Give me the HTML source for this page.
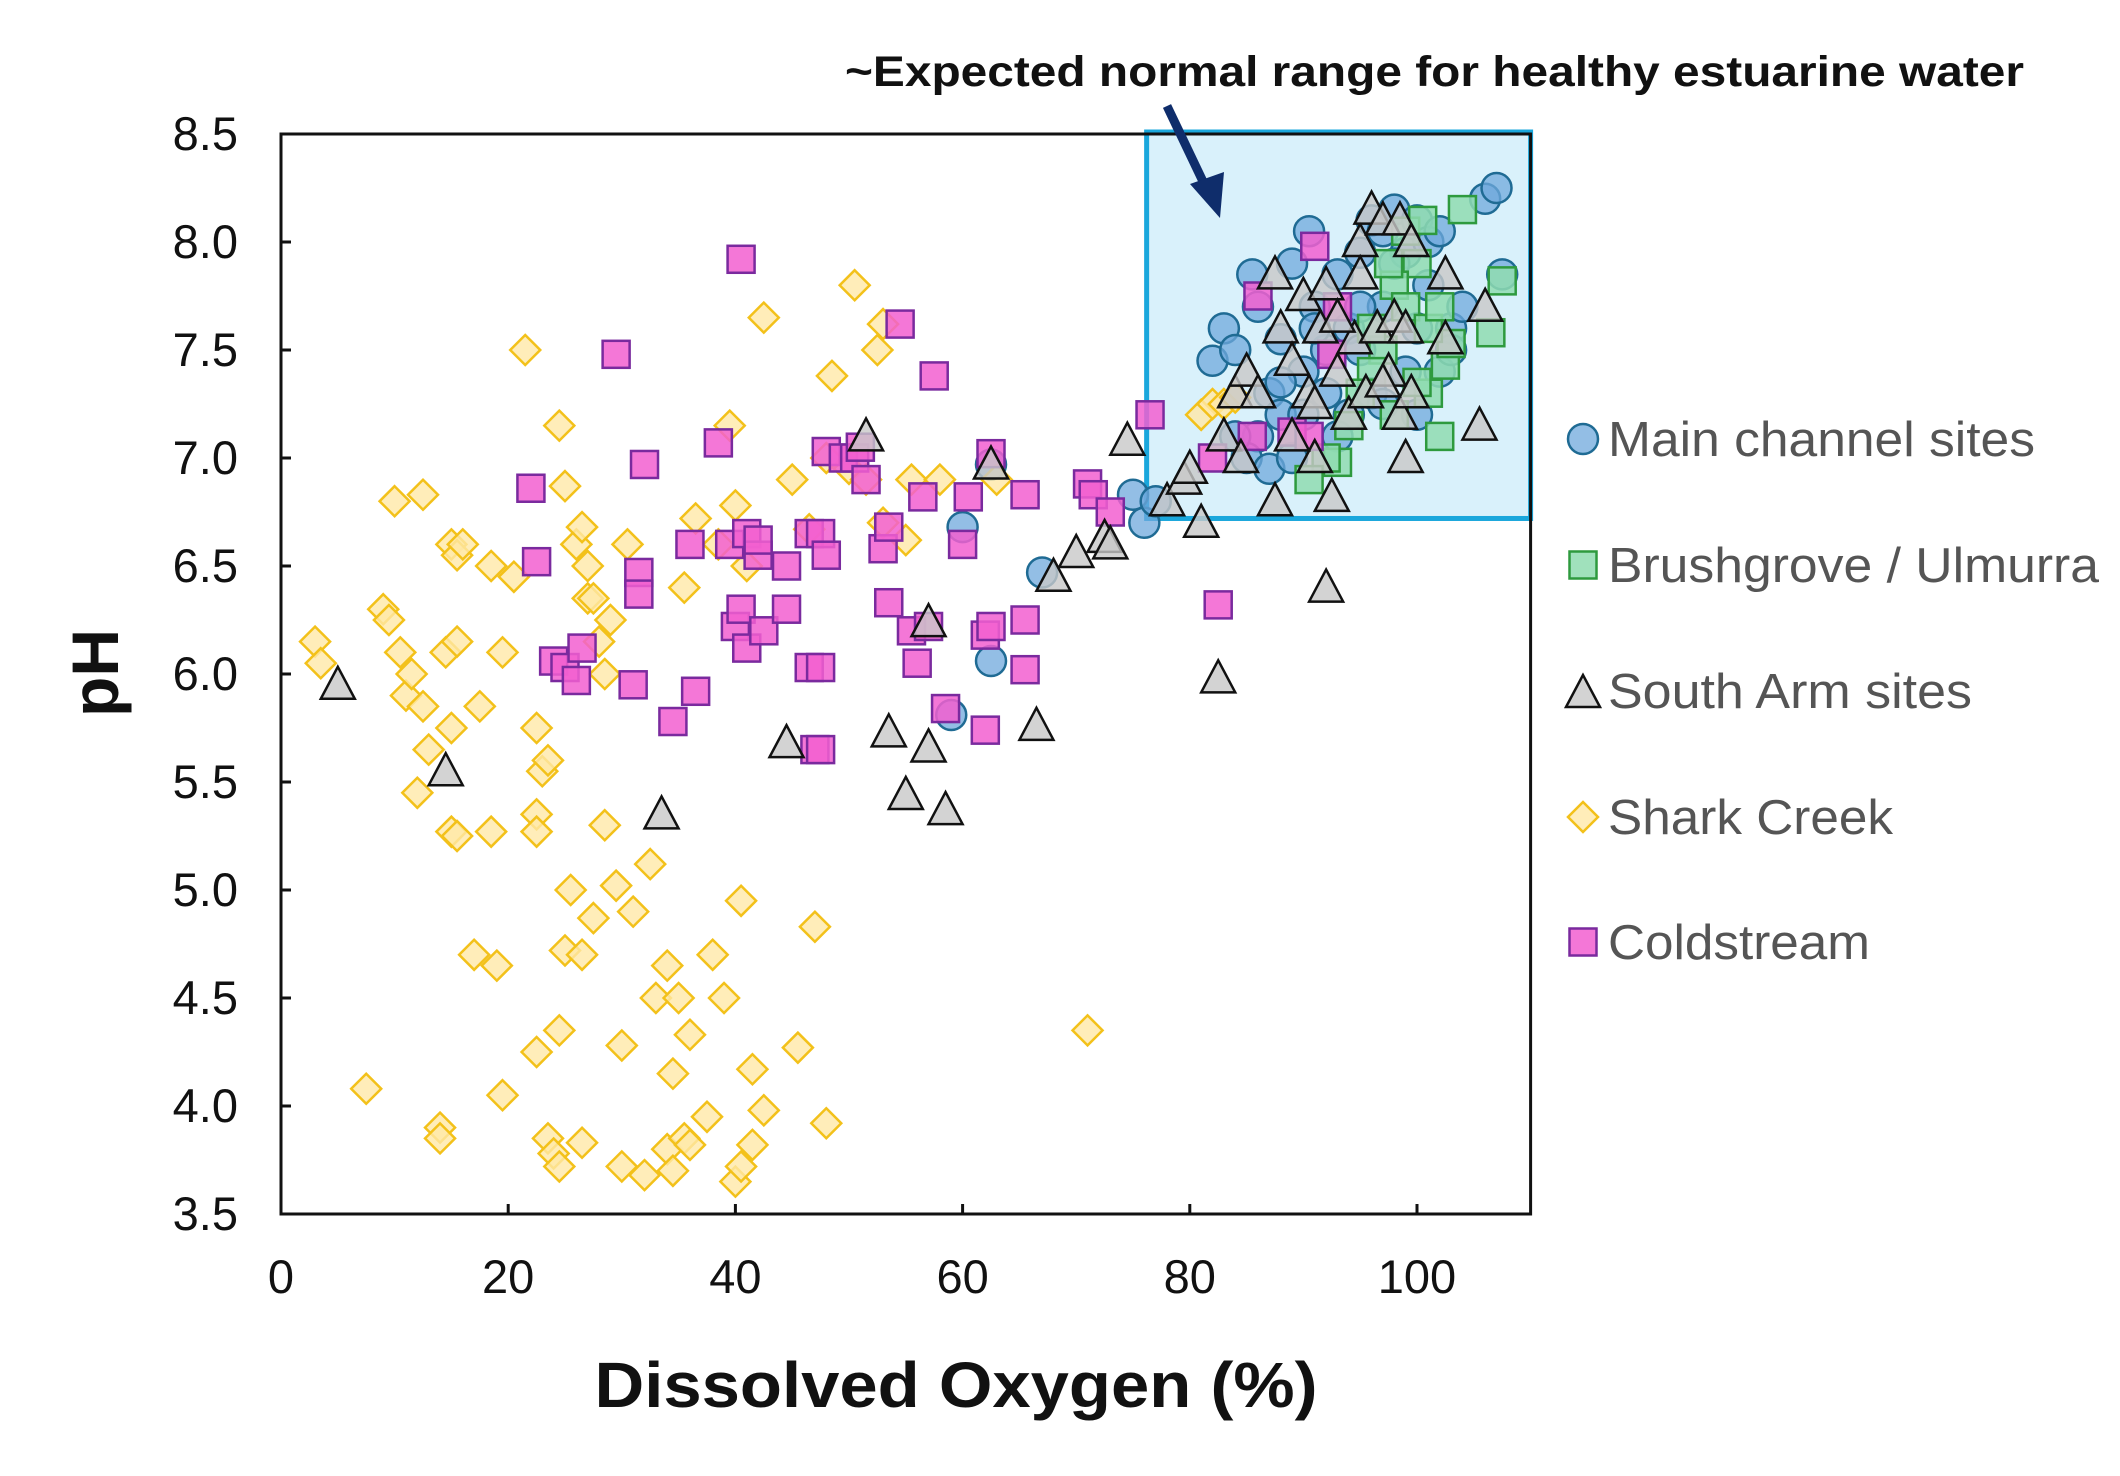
<!DOCTYPE html>
<html><head><meta charset="utf-8"><style>
body{margin:0;background:#fff;}
svg{display:block;font-family:"Liberation Sans",Arial,sans-serif;}
</style></head><body>
<svg id="chart" width="2120" height="1476" viewBox="0 0 2120 1476" xmlns="http://www.w3.org/2000/svg">
<rect x="0" y="0" width="2120" height="1476" fill="#fff"/>
<g id="box"></g>
<g id="marks"></g>
<g id="axes"></g>
<text x="845" y="86" font-size="43" font-weight="bold" fill="#111" textLength="1179" lengthAdjust="spacingAndGlyphs">~Expected normal range for healthy estuarine water</text>
<g>
<line x1="1167" y1="106" x2="1208" y2="192" stroke="#0f2d6b" stroke-width="9"/>
<polygon points="1190,184 1224,172 1220,218" fill="#0f2d6b"/>
</g>
<text x="956" y="1407" font-size="64" font-weight="bold" text-anchor="middle" fill="#111" textLength="723" lengthAdjust="spacingAndGlyphs">Dissolved Oxygen (%)</text>
<text transform="translate(118,673) rotate(-90)" font-size="66" font-weight="bold" text-anchor="middle" fill="#111">pH</text>
<g id="legend"></g>
</svg>
<script>
const xTicks=[0,20,40,60,80,100];
const yTicks=[3.5,4.0,4.5,5.0,5.5,6.0,6.5,7.0,7.5,8.0,8.5];
const mainX=[59,60,62.5,62.5,67,75,76,77,82,83,84,85.5,86,87,88,89,90.5,91,92,93,94,95,96,97,98,99,100,101,102,103,104,106,107,107.5,86,85,87,88,90,92,94,95,97,98,99,100,101,102,96,93,89,84,91,97,100,103,95,90,88];
const mainY=[5.81,6.68,6.97,6.06,6.47,6.83,6.7,6.8,7.45,7.6,7.5,7.85,7.7,7.3,7.55,7.9,8.05,7.7,7.5,7.85,7.6,7.95,8.1,8.05,8.15,7.95,8.1,8.0,8.05,7.6,7.7,8.2,8.25,7.85,7.1,7.0,6.95,7.2,7.4,7.3,7.2,7.5,7.7,7.9,7.4,7.6,7.8,7.4,7.3,7.1,7.0,7.1,7.6,7.25,7.2,7.5,7.7,7.2,7.35];
const brushX=[107.5,106.5,104,102,102.5,103,99,100,100.5,98,97,96,95,93,92,90.5,94,99,101,100,98,96,97.5,101,102];
const brushY=[7.82,7.58,8.15,7.1,7.43,7.53,8.05,7.9,8.1,7.8,7.5,7.4,7.3,6.98,7.0,6.9,7.15,7.7,7.3,7.35,7.2,7.6,7.9,7.6,7.7];
const southX=[5,14.5,33.5,51.5,44.5,53.5,55,57,57,58.5,62.5,66.5,68,70,72.5,73,74.5,78,79.5,80,81,82.5,83,84,84.5,85,86,87.5,87.5,88,89,90,90.5,91,91.5,92,92,92.5,93,94,94.5,95,95.5,96,96.5,97,97.5,98,98.5,98.5,99,99,99.5,99.5,102.5,102.5,105.5,106,89,93,95,97,91];
const southY=[5.95,5.55,5.35,7.1,5.68,5.73,5.44,5.66,6.24,5.37,6.97,5.76,6.45,6.56,6.63,6.6,7.08,6.8,6.9,6.95,6.7,5.98,7.1,7.3,7.0,7.4,7.3,6.8,7.85,7.6,7.45,7.75,7.3,7.0,7.6,6.4,7.8,6.82,7.4,7.2,7.55,8.0,7.3,8.15,7.6,8.1,7.4,7.65,7.2,8.1,7.0,7.6,8.0,7.3,7.85,7.55,7.15,7.7,7.1,7.65,7.85,7.35,7.25];
const sharkX=[3,3.5,7.5,9,9.5,10,10.5,11,11.5,12,12.5,12.5,13,14,14,14.5,15,15,15.5,15.5,15,15.5,16,17,17.5,18.5,18.5,19,19.5,19.5,20.5,21.5,22.5,22.5,22.5,23,23.5,22.5,23.5,24,24.5,24.5,24.5,25,25,25.5,26,26.5,26.5,26.5,27,27,27.5,27.5,28,28.5,28.5,29,29.5,30,30,30.5,31,32,32.5,33,34,34,34.5,34.5,35,35.5,35.5,36,36,36.5,37.5,38,38.5,39,39.5,40,40,40.5,40.5,41,41.5,41.5,42.5,42.5,45,45.5,46.5,47,48,48,48.5,50,50.5,51.5,52.5,53,53,55.5,55,58,63,71,81,82,83,84];
const sharkY=[6.15,6.05,4.08,6.3,6.25,6.8,6.1,5.9,6.0,5.45,5.85,6.83,5.65,3.9,3.85,6.1,6.6,5.75,6.55,6.15,5.27,5.25,6.6,4.7,5.85,6.5,5.27,4.65,4.05,6.1,6.45,7.5,5.75,5.35,5.27,5.55,5.6,4.25,3.85,3.78,3.72,7.15,4.35,6.87,4.72,5.0,6.6,6.68,4.7,3.83,6.35,6.5,6.35,4.87,6.15,6.0,5.3,6.25,5.02,4.28,3.72,6.6,4.9,3.68,5.12,4.5,4.65,3.8,3.7,4.15,4.5,6.4,3.85,3.82,4.33,6.72,3.95,4.7,6.6,4.5,7.15,6.78,3.65,4.95,3.72,6.5,4.17,3.82,7.65,3.98,6.9,4.27,6.67,4.83,7.0,3.92,7.38,6.95,7.8,6.9,7.5,6.7,7.62,6.9,6.62,6.9,6.9,4.35,7.2,7.25,7.25,7.28];
const coldX=[40.5,29.5,54.5,57.5,38.5,32,22,22.5,48,49.5,50.5,51,51.5,62.5,60.5,56.5,65.5,71,71.5,73,76.5,39.5,41,42,42,44.5,46.5,47.5,48,53,53.5,60,36,31.5,31.5,24,25,26,26.5,31,36.5,34.5,40,40.5,41,42.5,44.5,46.5,47.5,53.5,55.5,56,57,58.5,62,62.5,65.5,65.5,62,47,47.5,82.5,82,86,85.5,89,90.5,93,92.5,91];
const coldY=[7.92,7.48,7.62,7.38,7.07,6.97,6.86,6.52,7.03,7.0,7.0,7.05,6.9,7.02,6.82,6.82,6.83,6.88,6.83,6.75,7.2,6.6,6.65,6.55,6.62,6.5,6.65,6.65,6.55,6.58,6.68,6.6,6.6,6.47,6.37,6.06,6.03,5.97,6.12,5.95,5.92,5.78,6.22,6.3,6.12,6.2,6.3,6.03,6.03,6.33,6.2,6.05,6.22,5.84,6.18,6.22,6.25,6.02,5.74,5.65,5.65,6.32,7.0,7.75,7.1,7.12,7.1,7.7,7.48,7.98];
const X0=281,XS=11.36,XMAX=110,YMIN=3.5,YMAX=8.5,Y0=134,YS=216;
function xs(v){return X0+v*XS;}
function ys(v){return Y0+(YMAX-v)*YS;}
const NS="http://www.w3.org/2000/svg";
function mk(tag,attrs,parent){const e=document.createElementNS(NS,tag);for(const k in attrs)e.setAttribute(k,attrs[k]);parent.appendChild(e);return e;}
const box=document.getElementById('box');
const br=mk('rect',{x:xs(76.2),y:ys(8.5)-2,width:xs(110)-xs(76.2),height:ys(6.72)-ys(8.5)+2,fill:'#d9f1fb',stroke:'#1aa7dc','stroke-width':5},box);


const marks=document.getElementById('marks');
function circle(x,y,g,name){const e=mk('circle',{cx:x,cy:y,r:15,fill:'#6fa8dc','fill-opacity':0.75,stroke:'#1f6b94','stroke-width':2.5},g);return e;}
function square(x,y,g,fill,stroke,name){const e=mk('rect',{x:x-13.5,y:y-13.5,width:27,height:27,fill:fill,'fill-opacity':0.85,stroke:stroke,'stroke-width':2.5},g);return e;}
function tri(x,y,g,name){const e=mk('polygon',{points:`${x},${y-18} ${x-17},${y+14} ${x+17},${y+14}`,fill:'#c8c8c8','fill-opacity':0.8,stroke:'#111','stroke-width':2.5},g);return e;}
function diamond(x,y,g,name){const e=mk('polygon',{points:`${x},${y-15} ${x+15},${y} ${x},${y+15} ${x-15},${y}`,fill:'#ffe9a8','fill-opacity':0.8,stroke:'#f3c11a','stroke-width':2.5},g);return e;}
mainX.forEach((v,i)=>circle(xs(v),ys(mainY[i]),marks,'main-channel-point'));
brushX.forEach((v,i)=>square(xs(v),ys(brushY[i]),marks,'#8fdcb0','#2e9a3e','brushgrove-point'));
sharkX.forEach((v,i)=>diamond(xs(v),ys(sharkY[i]),marks,'shark-creek-point'));
coldX.forEach((v,i)=>square(xs(v),ys(coldY[i]),marks,'#f25fd0','#7a2a9e','coldstream-point'));
southX.forEach((v,i)=>tri(xs(v),ys(southY[i]),marks,'south-arm-point'));
const axes=document.getElementById('axes');
const frame=mk('rect',{x:xs(0),y:ys(8.5),width:xs(XMAX)-xs(0),height:ys(3.5)-ys(8.5),fill:'none',stroke:'#111','stroke-width':3},axes);


xTicks.forEach(v=>{
  mk('line',{x1:xs(v),y1:ys(3.5),x2:xs(v),y2:ys(3.5)-10,stroke:'#111','stroke-width':3},axes);
  const t=mk('text',{x:xs(v),y:1293,'font-size':47,'text-anchor':'middle',fill:'#111'},axes);t.textContent=v;
  
  
});
yTicks.forEach(v=>{
  mk('line',{x1:xs(0),y1:ys(v),x2:xs(0)+10,y2:ys(v),stroke:'#111','stroke-width':3},axes);
  const t=mk('text',{x:238,y:ys(v)+16,'font-size':47,'text-anchor':'end',fill:'#111'},axes);t.textContent=v.toFixed(1);
  
  
});
const leg=document.getElementById('legend');
const legNames=['Main channel sites','Brushgrove / Ulmurra','South Arm sites','Shark Creek','Coldstream'];
const legW=[427,491,364,285,262];
const legY=[439,565,691,817,942];
legNames.forEach((n,i)=>{
  const y=legY[i],x=1583;
  if(i===0)circle(x,y,leg,'legend-marker-main');
  if(i===1)square(x,y,leg,'#8fdcb0','#2e9a3e','legend-marker-brushgrove');
  if(i===2)tri(x,y+2,leg,'legend-marker-south-arm');
  if(i===3)diamond(x,y,leg,'legend-marker-shark-creek');
  if(i===4)square(x,y,leg,'#f25fd0','#7a2a9e','legend-marker-coldstream');
  const t=mk('text',{x:1608,y:y+17,'font-size':49,fill:'#555',textLength:legW[i],lengthAdjust:'spacingAndGlyphs'},leg);t.textContent=n;
  
  
});
</script>
</body></html>
